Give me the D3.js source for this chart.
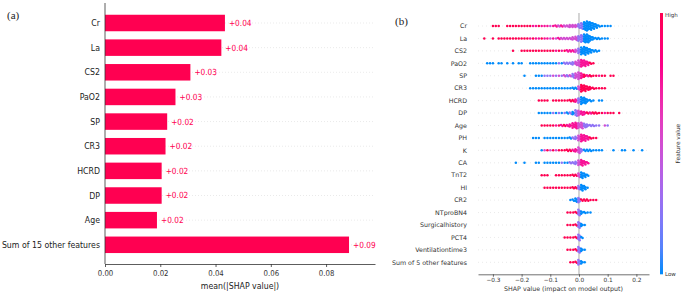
<!DOCTYPE html>
<html>
<head>
<meta charset="utf-8">
<script src="https://cdn.jsdelivr.net/npm/d3@7"></script>
<style>
  body { margin: 0; background: #fff; }
  svg { display: block; font-family: "DejaVu Sans", sans-serif; }
</style>
</head>
<body>
<svg id="chart" width="683" height="294"></svg>
<script>
// (a) mean |SHAP| bars
const barFeatures = ["Cr", "La", "CS2", "PaO2", "SP", "CR3", "HCRD", "DP", "Age", "Sum of 15 other features"];
const barValues = [0.0434, 0.0421, 0.0309, 0.0255, 0.0225, 0.0219, 0.0205, 0.0205, 0.0188, 0.0883];
const barLabels = ["+0.04", "+0.04", "+0.03", "+0.03", "+0.02", "+0.02", "+0.02", "+0.02", "+0.02", "+0.09"];
const barTicks = [0, 0.02, 0.04, 0.06, 0.08];

// (b) beeswarm, binned every 0.01: dots per bin and feature value per bin (0 low .. 4 high)
const swarmFeatures = ["Cr", "La", "CS2", "PaO2", "SP", "CR3", "HCRD", "DP", "Age", "PH", "K", "CA", "TnT2", "HI",
  "CR2", "NTproBN4", "Surgicalhistory", "PCT4", "Ventilationtime3", "Sum of 5 other features"];
const swarmStart = [-0.30, -0.33, -0.23, -0.32, -0.19, -0.17, -0.14, -0.14, -0.13, -0.16, -0.13, -0.22, -0.13, -0.12,
  -0.03, -0.04, -0.04, -0.05, -0.04, -0.03];
const swarmCounts = [
  [1,1,1,0,0,1,1,1,1,1, 1,1,1,1,1,1,1,1,1,1, 1,1,2,2,2,2,2,3,3,3, 4,6,8,9,8,6,4,2,1,1, 1,1],
  [1,0,0,1,0,1,1,1,1,1, 1,1,1,1,1,1,1,1,1,1, 1,1,1,1,1,1,2,2,2,2, 2,3,4,5,7,8,8,5,3,2, 2,1,1,1],
  [1,0,0,1,1,1,1,1,1,1, 1,1,1,1,1,1,1,1,1,2, 2,2,3,5,7,8,6,4,2,2, 1],
  [1,1,1,0,1,1,0,1,0,1, 0,1,1,0,0,1,1,1,1,1, 1,1,1,1,1,1,1,2,2,2, 3,4,6,7,6,4,2,1],
  [1,0,0,0,1,1,1,1,1,1, 1,1,1,1,2,2,2,4,5,7, 5,3,2,2,1,1,1,1,1,0, 1,1],
  [1,1,1,1,1,1,1,1,1,1, 1,1,1,1,1,2,2,4,7,6, 4,3,2,1,1,1,1],
  [1,1,1,1,0,1,1,1,1,1, 1,2,2,3,5,7,6,3,2,1, 0,1,1],
  [1,1,1,1,1,1,1,1,1,1, 2,2,3,6,5,4,3,2,2,2, 2,1,1,1,1,1,1,0,1],
  [1,1,1,1,1,1,1,2,2,2, 3,5,6,5,6,4,3,2,2,1, 1,0,1,1],
  [1,1,1,0,1,1,1,1,1,1, 1,1,1,2,2,3,5,7,6,4, 2,1,1],
  [1,1,1,1,1,1,1,1,1,2, 2,2,3,6,3,2,2,2,1,1, 1,1,0,0,0,1,0,0,1,1, 0,0,1,0,0,1],
  [1,0,0,1,0,0,0,1,1,0, 1,1,1,1,1,1,1,1,1,2, 2,3,5,6,4,2],
  [1,1,1,0,0,1,1,1,1,1, 1,2,2,4,6,4,2],
  [1,1,1,1,1,1,1,1,1,1, 2,2,4,6,4,1],
  [1,2,4,5,2,2,2,1,1,1],
  [1,1,1,2,6,3,2,1,1],
  [1,1,1,2,6,3,1],
  [1,1,1,1,2,6,2],
  [1,1,1,2,6,3,1],
  [1,1,2,5,3,1]
];
const swarmColors = [
  [4,4,4,0,0,4,4,4,4,4, 4,4,4,4,3,3,4,3,3,3, 2,3,3,2,3,2,2,2,2,2, 1,1,0,0,0,0,0,0,0,0, 0,0],
  [4,0,0,4,0,4,4,4,4,4, 4,4,4,4,4,4,3,4,3,3, 4,3,3,2,3,2,3,2,2,2, 2,2,2,1,1,0,0,0,0,0, 0,0,0,0],
  [4,0,0,4,4,4,4,4,4,4, 4,4,4,4,4,3,4,3,4,3, 3,3,2,1,0,0,0,0,0,0, 0],
  [0,0,0,0,0,0,0,0,0,0, 0,0,0,0,0,0,0,0,0,0, 0,0,0,0,0,1,0,1,1,1, 1,2,2,3,3,3,4,4],
  [0,0,0,0,0,0,0,1,1,1, 2,1,2,1,2,1,2,1,2,2, 3,4,3,4,4,4,3,4,4,0, 4,4],
  [0,0,0,0,0,0,0,0,0,0, 0,0,0,0,0,0,0,2,4,4, 4,4,4,4,4,4,4],
  [4,4,4,4,0,4,4,4,4,4, 4,4,4,3,1,0,0,0,0,0, 0,0,0],
  [0,0,0,0,0,1,0,1,0,1, 0,1,0,1,2,3,3,4,3,4, 4,4,4,3,4,4,4,0,4],
  [4,4,4,4,4,3,4,3,4,3, 3,3,3,2,2,1,1,1,1,1, 1,0,2,1],
  [0,0,0,0,0,0,0,0,0,0, 0,0,0,0,1,1,2,3,3,3, 4,4,4],
  [0,2,4,2,4,2,4,4,4,4, 4,3,3,2,1,0,0,0,0,0, 0,0,0,0,0,0,0,0,0,0, 0,0,0,0,0,0],
  [0,0,0,0,0,0,0,0,0,0, 0,0,0,0,0,0,1,0,0,1, 1,1,2,3,3,3],
  [4,4,4,0,0,4,4,4,4,4, 4,4,4,2,0,0,0],
  [4,4,4,4,4,4,4,4,4,4, 4,4,1,0,0,0],
  [0,0,0,1,4,4,4,4,4,4],
  [4,4,4,4,1,0,0,0,0],
  [4,4,4,4,1,0,0],
  [4,4,4,4,4,1,0],
  [4,4,4,4,1,0,0],
  [4,4,4,1,0,0]
];
const swarmTicks = [-0.3, -0.2, -0.1, 0, 0.1, 0.2];

const red = "#ff0051", blue = "#008bfb";
const colorOf = d3.interpolateHcl(blue, red);
const svg = d3.select("#chart");
const squeeze = 0.87;

// ---------- (a) ----------
const a = {left: 105, right: 375, top: 3, bottom: 264};
const xa = d3.scaleLinear().domain([0, 0.0977]).range([a.left, a.right]);
const ya = d3.scalePoint().domain(barFeatures).range([23, 244.8]);
const barH = 16.5;

svg.append("text")
  .attr("x", 7).attr("y", 19)
  .attr("font-family", "'Liberation Serif', 'DejaVu Serif', serif")
  .attr("font-size", 11).attr("fill", "#222")
  .text("(a)");

svg.append("g").selectAll("line")
  .data(barFeatures)
  .join("line")
  .attr("x1", a.left).attr("x2", a.right)
  .attr("y1", d => ya(d)).attr("y2", d => ya(d))
  .attr("stroke", "#d4d4d4").attr("stroke-width", 0.5)
  .attr("stroke-dasharray", "1,2");

svg.append("g").selectAll("rect")
  .data(barFeatures)
  .join("rect")
  .attr("x", a.left)
  .attr("y", d => ya(d) - barH / 2)
  .attr("width", (d, i) => xa(barValues[i]) - a.left)
  .attr("height", barH)
  .attr("fill", red);

svg.append("g").selectAll("text")
  .data(barFeatures)
  .join("text")
  .attr("transform", (d, i) => `translate(${xa(barValues[i]) + 4},${ya(d)}) scale(${squeeze},1)`)
  .attr("dy", "0.35em")
  .attr("font-size", 8.5).attr("fill", red)
  .text((d, i) => barLabels[i]);

svg.append("g").selectAll("text")
  .data(barFeatures)
  .join("text")
  .attr("transform", d => `translate(${a.left - 5},${ya(d)}) scale(${squeeze},1)`)
  .attr("dy", "0.35em")
  .attr("text-anchor", "end")
  .attr("font-size", 9).attr("fill", "#222")
  .text(d => d);

svg.append("line")
  .attr("x1", a.left).attr("x2", a.left)
  .attr("y1", a.top).attr("y2", a.bottom)
  .attr("stroke", "#333").attr("stroke-width", 0.8);

const axA = svg.append("g")
  .attr("transform", `translate(0,${a.bottom})`)
  .call(d3.axisBottom(xa).tickValues(barTicks).tickFormat(d3.format(".2f")).tickSize(3).tickSizeOuter(0));
axA.select(".domain").attr("stroke", "#333").attr("stroke-width", 0.8);
axA.selectAll(".tick line").attr("stroke", "#333").attr("stroke-width", 0.8);
axA.selectAll(".tick text")
  .attr("y", 6)
  .attr("font-family", "DejaVu Sans").attr("font-size", 8).attr("fill", "#333")
  .attr("transform", `scale(${squeeze},1)`);

svg.append("text")
  .attr("transform", `translate(${(a.left + a.right) / 2},289) scale(${squeeze},1)`)
  .attr("text-anchor", "middle")
  .attr("font-size", 9).attr("fill", "#222")
  .text("mean(|SHAP value|)");

// ---------- (b) ----------
const b = {left: 478, right: 649, top: 13, bottom: 274.3};
const xb = d3.scaleLinear().domain([-0.352, 0.244]).range([b.left, b.right]);
const yb = d3.scalePoint().domain(swarmFeatures).range([26, 262.3]);
const dotR = 1.25, dotStep = 1.1;

svg.append("text")
  .attr("x", 395).attr("y", 25)
  .attr("font-family", "'Liberation Serif', 'DejaVu Serif', serif")
  .attr("font-size", 11).attr("fill", "#222")
  .text("(b)");

svg.append("g").selectAll("line")
  .data(swarmFeatures)
  .join("line")
  .attr("x1", b.left).attr("x2", b.right)
  .attr("y1", d => yb(d)).attr("y2", d => yb(d))
  .attr("stroke", "#d4d4d4").attr("stroke-width", 0.5)
  .attr("stroke-dasharray", "1,3");

svg.append("line")
  .attr("x1", xb(0)).attr("x2", xb(0))
  .attr("y1", b.top).attr("y2", b.bottom)
  .attr("stroke", "#aaa").attr("stroke-width", 1);

// one dot per unit of count, stacked around the row line
const dots = [];
swarmFeatures.forEach((f, i) => {
  swarmCounts[i].forEach((n, j) => {
    const v = swarmStart[i] + j * 0.01;
    for (let k = 0; k < n; k++) {
      dots.push({f, v, off: k - (n - 1) / 2, side: n > 1 ? (k % 2 ? 0.7 : -0.7) : 0, c: swarmColors[i][j] / 4});
    }
  });
});

svg.append("g").selectAll("circle")
  .data(dots)
  .join("circle")
  .attr("cx", d => xb(d.v) + d.side)
  .attr("cy", d => yb(d.f) + d.off * dotStep)
  .attr("r", dotR)
  .attr("fill", d => colorOf(d.c));

svg.append("g").selectAll("text")
  .data(swarmFeatures)
  .join("text")
  .attr("x", 467)
  .attr("y", d => yb(d))
  .attr("dy", "0.35em")
  .attr("text-anchor", "end")
  .attr("font-size", 6.3).attr("fill", "#333")
  .text(d => d);

const axB = svg.append("g")
  .attr("transform", `translate(0,${b.bottom})`)
  .call(d3.axisBottom(xb).tickValues(swarmTicks).tickFormat(d3.format(".1f")).tickSize(2.5).tickSizeOuter(0));
axB.select(".domain").attr("stroke", "#333").attr("stroke-width", 0.7);
axB.selectAll(".tick line").attr("stroke", "#333").attr("stroke-width", 0.7);
axB.selectAll(".tick text")
  .attr("y", 4)
  .attr("font-family", "DejaVu Sans").attr("font-size", 5.8).attr("fill", "#333");

svg.append("text")
  .attr("x", (b.left + b.right) / 2).attr("y", 291)
  .attr("text-anchor", "middle")
  .attr("font-size", 6.3).attr("fill", "#333")
  .text("SHAP value (impact on model output)");

// colour bar
const grad = svg.append("defs").append("linearGradient")
  .attr("id", "fv").attr("x1", 0).attr("x2", 0).attr("y1", 1).attr("y2", 0);
grad.selectAll("stop")
  .data(d3.range(0, 1.001, 0.1))
  .join("stop")
  .attr("offset", d => d)
  .attr("stop-color", d => colorOf(d));

svg.append("rect")
  .attr("x", 660).attr("y", b.top)
  .attr("width", 3).attr("height", b.bottom - b.top)
  .attr("fill", "url(#fv)");

svg.append("text")
  .attr("x", 665).attr("y", b.top + 4)
  .attr("font-size", 5.5).attr("fill", "#333")
  .text("High");
svg.append("text")
  .attr("x", 665).attr("y", b.bottom + 2)
  .attr("font-size", 5.5).attr("fill", "#333")
  .text("Low");
svg.append("text")
  .attr("transform", `translate(680,${(b.top + b.bottom) / 2}) rotate(-90)`)
  .attr("text-anchor", "middle")
  .attr("font-size", 5.8).attr("fill", "#333")
  .text("Feature value");
</script>
</body>
</html>
